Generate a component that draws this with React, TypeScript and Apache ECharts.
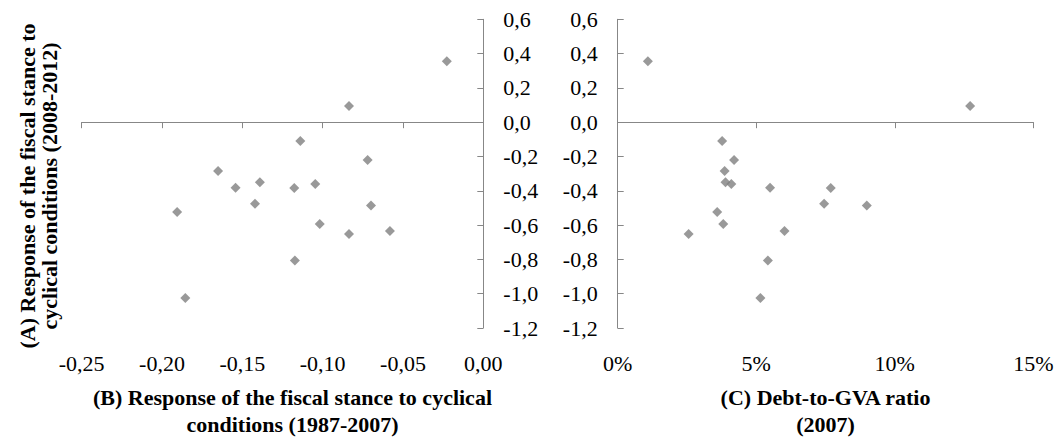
import React, { useEffect, useRef } from 'react';
import * as echarts from 'echarts';

// (A) Response of the fiscal stance to cyclical conditions (2008-2012)
const responseA = [0.355, 0.095, -0.11, -0.22, -0.285, -0.35, -0.36, -0.382, -0.384, -0.476, -0.486, -0.524, -0.594, -0.652, -0.634, -0.806, -1.025];
// (B) Response of the fiscal stance to cyclical conditions (1987-2007)
const responseB = [-0.0227, -0.0836, -0.1139, -0.072, -0.1651, -0.1391, -0.1046, -0.1542, -0.1177, -0.1421, -0.0699, -0.1906, -0.1018, -0.0836, -0.0581, -0.1173, -0.1855];
// (C) Debt-to-GVA ratio (2007), in %
const debtC = [1.09, 12.72, 3.77, 4.2, 3.86, 3.89, 4.1, 5.5, 7.69, 7.45, 8.99, 3.59, 3.81, 2.56, 6.02, 5.42, 5.15];

const titleA = '(A) Response of the fiscal stance to\ncyclical conditions (2008-2012)';
const titleB = '(B) Response of the fiscal stance to cyclical\nconditions (1987-2007)';
const titleC = '(C) Debt-to-GVA ratio\n(2007)';

const FONT = "'Liberation Serif', 'Times New Roman', serif";
const AXIS_COLOR = '#878787';
const POINT_COLOR = '#808080';

const comma = (v: number, d: number) => {
  const s = (Math.abs(v) < 1e-9 ? 0 : v).toFixed(d).replace('.', ',');
  return s;
};

export default function App() {
  const ref = useRef<HTMLDivElement>(null);
  useEffect(() => {
    if (!ref.current) return;
    const chart = echarts.init(ref.current, undefined, { renderer: 'svg' });
    const labelStyle = { fontFamily: FONT, fontSize: 22, color: '#000' };
    const nameStyle = { fontFamily: FONT, fontSize: 22, fontWeight: 'bold' as const, color: '#000', lineHeight: 27 };
    const lineStyle = { color: AXIS_COLOR, width: 1 };
    const option: any = {
      animation: false,
      grid: [
        { left: 81.7, top: 19.3, width: 401.6, height: 314 },
        { left: 617.7, top: 19.3, width: 415.6, height: 314 },
      ],
      xAxis: [
        {
          gridIndex: 0, type: 'value', min: -0.25, max: 0, interval: 0.05, position: 'bottom',
          axisLine: { show: false, onZero: false }, axisTick: { show: false }, splitLine: { show: false },
          axisLabel: { ...labelStyle, margin: 24, formatter: (v: number) => comma(v, 2) },
          name: titleB, nameLocation: 'middle', nameGap: 56,
          nameTextStyle: { ...nameStyle, padding: [0, 0, 0, 20] },
        },
        {
          gridIndex: 0, type: 'value', min: -0.25, max: 0, interval: 0.05, position: 'bottom',
          axisLine: { show: true, onZero: true, lineStyle }, axisTick: { show: true, length: 6, lineStyle },
          axisLabel: { show: false }, splitLine: { show: false },
        },
        {
          gridIndex: 1, type: 'value', min: 0, max: 15, interval: 5, position: 'bottom',
          axisLine: { show: false, onZero: false }, axisTick: { show: false }, splitLine: { show: false },
          axisLabel: { ...labelStyle, margin: 24, formatter: (v: number) => `${v}%` },
          name: titleC, nameLocation: 'middle', nameGap: 56, nameTextStyle: nameStyle,
        },
        {
          gridIndex: 1, type: 'value', min: 0, max: 15, interval: 5, position: 'bottom',
          axisLine: { show: true, onZero: true, lineStyle }, axisTick: { show: true, length: 6, lineStyle },
          axisLabel: { show: false }, splitLine: { show: false },
        },
      ],
      yAxis: [
        {
          gridIndex: 0, type: 'value', min: -1.2, max: 0.6, interval: 0.2, position: 'right',
          axisLine: { show: true, onZero: false, lineStyle }, axisTick: { show: true, inside: true, length: 6, lineStyle },
          axisLabel: { ...labelStyle, margin: 20, align: 'left', formatter: (v: number) => comma(v, 1) },
          splitLine: { show: false },
        },
        {
          gridIndex: 1, type: 'value', min: -1.2, max: 0.6, interval: 0.2, position: 'left',
          axisLine: { show: true, onZero: false, lineStyle }, axisTick: { show: true, inside: true, length: 6, lineStyle },
          axisLabel: { ...labelStyle, margin: 20, formatter: (v: number) => comma(v, 1) },
          splitLine: { show: false },
        },
      ],
      graphic: [
        {
          type: 'text', x: 38, y: 186, rotation: Math.PI / 2,
          style: {
            text: titleA, align: 'center', verticalAlign: 'middle',
            font: `bold 22px ${FONT}`, fill: '#000', lineHeight: 22,
          },
        },
      ],
      series: [
        {
          type: 'scatter', xAxisIndex: 0, yAxisIndex: 0, symbol: 'diamond', symbolSize: 10,
          itemStyle: { color: POINT_COLOR },
          data: responseB.map((x, i) => [x, responseA[i]]),
        },
        {
          type: 'scatter', xAxisIndex: 2, yAxisIndex: 1, symbol: 'diamond', symbolSize: 10,
          itemStyle: { color: POINT_COLOR },
          data: debtC.map((x, i) => [x, responseA[i]]),
        },
      ],
    };
    chart.setOption(option);
    return () => chart.dispose();
  }, []);
  return (
    <div
      ref={ref}
      style={{ position: 'fixed', left: 0, top: 0, width: 1059, height: 443, background: '#fff' }}
    />
  );
}
